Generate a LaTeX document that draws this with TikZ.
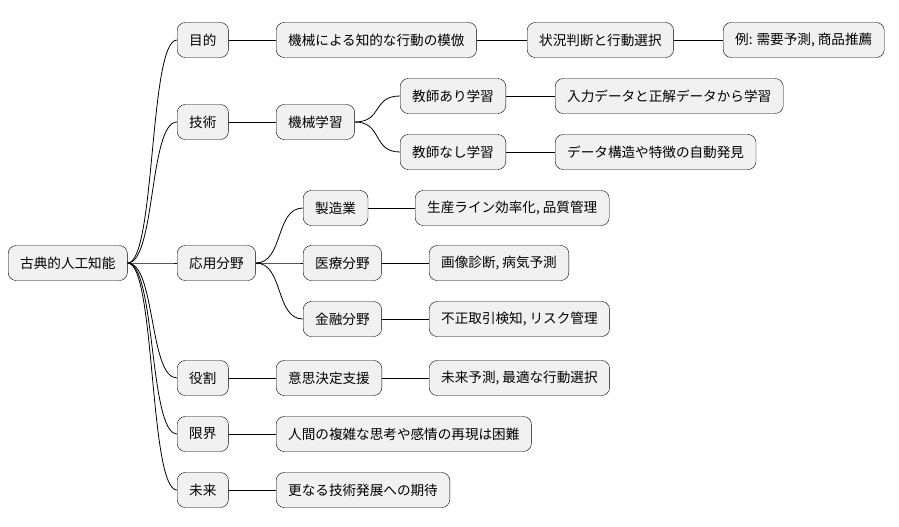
\documentclass[tikz,border=0pt]{standalone}
\usepackage{fontspec}
\setmainfont{Noto Sans CJK JP}
\usetikzlibrary{positioning}
\definecolor{boxgray}{HTML}{F1F1F1}
\tikzset{
  topic/.style={draw=black, fill=boxgray, rounded corners=8pt, minimum height=35pt,
    inner xsep=12pt, inner ysep=0pt, font=\fontsize{13.6}{16}\selectfont, anchor=west},
  branch/.style={draw=black, line width=0.8pt},
}
\newcommand{\curvelink}[2]{\draw[branch] (#1.east) .. controls +(28,0) and +(-28,0) .. (#2.west);}

\begin{document}
\begin{tikzpicture}[x=1pt, y=-1pt]
    \useasboundingbox (0,0) rectangle (899,527);

    % root
    \node[topic] (root) at (8,263) {古典的人工知能};

    % first level
    \node[topic] (goal) at (177,40) {目的};
    \node[topic] (tech) at (177,122) {技術};
    \node[topic] (apps) at (177,263) {応用分野};
    \node[topic] (role) at (177,378) {役割};
    \node[topic] (limit) at (177,434) {限界};
    \node[topic] (future) at (177,490) {未来};

    % goal chain
    \node[topic] (imitate) at (276,40) {機械による知的な行動の模倣};
    \node[topic] (judge) at (527,40) {状況判断と行動選択};
    \node[topic] (example) at (723,40) {例: 需要予測, 商品推薦};

    % technology
    \node[topic] (ml) at (276,122) {機械学習};
    \node[topic] (sup) at (400,96) {教師あり学習};
    \node[topic] (supdesc) at (555,96) {入力データと正解データから学習};
    \node[topic] (unsup) at (400,152) {教師なし学習};
    \node[topic] (unsupdesc) at (555,152) {データ構造や特徴の自動発見};

    % applications
    \node[topic] (manu) at (303,208) {製造業};
    \node[topic] (manudesc) at (415,208) {生産ライン効率化, 品質管理};
    \node[topic] (med) at (303,263) {医療分野};
    \node[topic] (meddesc) at (429,263) {画像診断, 病気予測};
    \node[topic] (fin) at (303,319) {金融分野};
    \node[topic] (findesc) at (429,319) {不正取引検知, リスク管理};

    % role, limit, future
    \node[topic] (decision) at (276,378) {意思決定支援};
    \node[topic] (decdesc) at (429,378) {未来予測, 最適な行動選択};
    \node[topic] (limitdesc) at (276,434) {人間の複雑な思考や感情の再現は困難};
    \node[topic] (futdesc) at (276,490) {更なる技術発展への期待};

    % connectors
    \foreach \c in {goal,tech,apps,role,limit,future} {\curvelink{root}{\c}}
    \foreach \c in {sup,unsup} {\curvelink{ml}{\c}}
    \foreach \c in {manu,med,fin} {\curvelink{apps}{\c}}
    \draw[branch] (goal) -- (imitate);
    \draw[branch] (imitate) -- (judge);
    \draw[branch] (judge) -- (example);
    \draw[branch] (tech) -- (ml);
    \draw[branch] (sup) -- (supdesc);
    \draw[branch] (unsup) -- (unsupdesc);
    \draw[branch] (manu) -- (manudesc);
    \draw[branch] (med) -- (meddesc);
    \draw[branch] (fin) -- (findesc);
    \draw[branch] (role) -- (decision);
    \draw[branch] (decision) -- (decdesc);
    \draw[branch] (limit) -- (limitdesc);
    \draw[branch] (future) -- (futdesc);
\end{tikzpicture}
\end{document}
